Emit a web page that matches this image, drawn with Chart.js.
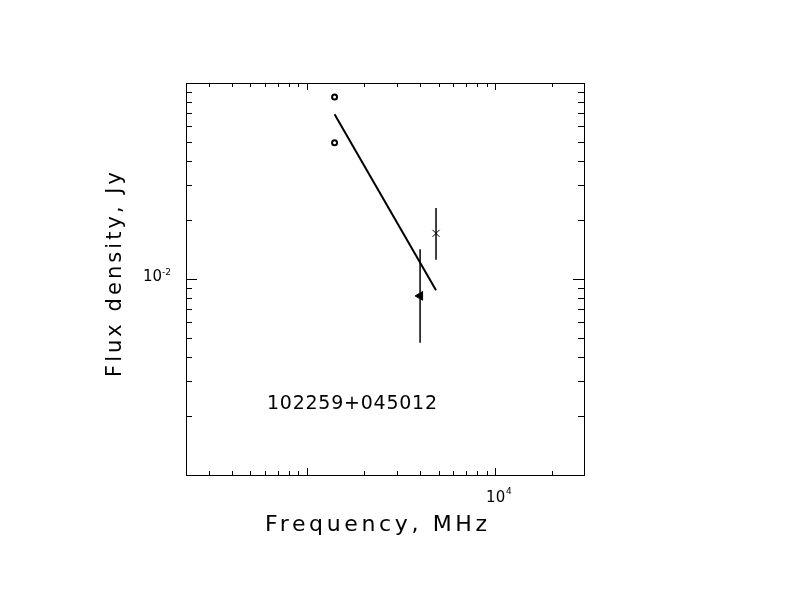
<!DOCTYPE html>
<html>
<head>
<meta charset="utf-8">
<script src="https://cdn.jsdelivr.net/npm/chart.js@4.4.0/dist/chart.umd.min.js"></script>
<style>
  body { margin: 0; background: #fff; }
  #wrap { width: 792px; height: 612px; }
</style>
</head>
<body>
<div id="wrap"><canvas id="sed" width="792" height="612"></canvas></div>
<script>
// Source and axis ranges
const sourceName = '102259+045012';
const xRange = [227, 29700];     // MHz
const yRange = [0.001, 0.1];     // Jy

// Open circles (1.4 GHz)
const circleFreq = [1400, 1400];
const circleFlux = [0.0849, 0.0496];

// Filled triangle with error bar
const triFreq = [3990];
const triFlux = [0.0082];
const triLo = [0.00473];
const triHi = [0.01417];

// Cross with error bar
const crossFreq = [4850];
const crossFlux = [0.0171];
const crossLo = [0.01255];
const crossHi = [0.0230];

// Spectral fit line
const fitFreq = [1400, 4850];
const fitFlux = [0.0692, 0.00876];

// Labelled ticks
const xLabelValues = [10000];
const xLabelExps = ['4'];
const yLabelValues = [0.01];
const yLabelExps = ['-2'];

const pts = (xs, ys) => xs.map((x, i) => ({ x: x, y: ys[i] }));
const errBars = (xs, lo, hi) => xs.map((x, i) => ({
  data: [{ x: x, y: lo[i] }, { x: x, y: hi[i] }],
  showLine: true, borderColor: '#000', borderWidth: 1.5, pointRadius: 0
}));

const FONT = '"DejaVu Sans", sans-serif';

// draw text spread to a given width
function spreadText(ctx, text, x, y, width) {
  ctx.letterSpacing = '0px';
  const w = ctx.measureText(text).width;
  const ls = Math.max(0, (width - w) / (text.length - 1));
  ctx.letterSpacing = ls + 'px';
  ctx.fillText(text, x, y);
  ctx.letterSpacing = '0px';
}

const framePlugin = {
  id: 'frame',
  afterDraw(chart) {
    const ctx = chart.ctx;
    const a = chart.chartArea;
    const xs = chart.scales.x;
    const ys = chart.scales.y;
    ctx.save();
    ctx.strokeStyle = '#000';
    ctx.fillStyle = '#000';
    ctx.lineWidth = 1;
    ctx.strokeRect(Math.round(a.left) + 0.5, Math.round(a.top) + 0.5,
      Math.round(a.right - a.left), Math.round(a.bottom - a.top));

    // x ticks, bottom and top
    for (let e = 2; e <= 4; e++) {
      for (let m = 1; m <= 9; m++) {
        const v = m * Math.pow(10, e);
        if (v <= xRange[0] || v >= xRange[1]) continue;
        const px = Math.round(xs.getPixelForValue(v)) + 0.5;
        const len = m === 1 ? 7 : 4;
        ctx.beginPath();
        ctx.moveTo(px, a.bottom); ctx.lineTo(px, a.bottom - len);
        ctx.moveTo(px, a.top); ctx.lineTo(px, a.top + len);
        ctx.stroke();
      }
    }
    // y ticks, left and right
    for (let e = -3; e <= -1; e++) {
      for (let m = 1; m <= 9; m++) {
        const v = m * Math.pow(10, e);
        if (v <= yRange[0] * 1.001 || v >= yRange[1] * 0.999) continue;
        const py = Math.round(ys.getPixelForValue(v)) + 0.5;
        const len = m === 1 ? 11 : 6;
        ctx.beginPath();
        ctx.moveTo(a.left, py); ctx.lineTo(a.left + len, py);
        ctx.moveTo(a.right, py); ctx.lineTo(a.right - len, py);
        ctx.stroke();
      }
    }

    // tick labels
    ctx.textBaseline = 'middle';
    ctx.textAlign = 'left';
    xLabelValues.forEach((v, i) => {
      const px = xs.getPixelForValue(v);
      ctx.font = '15px ' + FONT;
      ctx.fillText('10', px - 9, a.bottom + 23);
      ctx.font = '9px ' + FONT;
      ctx.fillText(xLabelExps[i], px + 11, a.bottom + 17);
    });
    yLabelValues.forEach((v, i) => {
      const py = ys.getPixelForValue(v);
      ctx.font = '15px ' + FONT;
      ctx.fillText('10', a.left - 43, py - 2);
      ctx.font = '9px ' + FONT;
      ctx.fillText(yLabelExps[i], a.left - 24, py - 6);
    });

    // axis titles
    ctx.textBaseline = 'alphabetic';
    ctx.font = '22px ' + FONT;
    spreadText(ctx, 'Frequency, MHz', 265, 531, 222);

    ctx.save();
    ctx.translate(121, 377);
    ctx.rotate(-Math.PI / 2);
    ctx.font = '21px ' + FONT;
    spreadText(ctx, 'Flux density, Jy', 0, 0, 205);
    ctx.restore();

    // source name
    ctx.font = '19px ' + FONT;
    spreadText(ctx, sourceName, 267, 409, 170);
    ctx.restore();
  }
};

new Chart(document.getElementById('sed'), {
  type: 'scatter',
  data: {
    datasets: [
      {
        data: pts(fitFreq, fitFlux),
        showLine: true, borderColor: '#000', borderWidth: 2, pointRadius: 0
      },
      {
        data: pts(circleFreq, circleFlux),
        pointStyle: 'circle', pointRadius: 2.5, borderWidth: 2,
        borderColor: '#000', backgroundColor: '#fff'
      },
      ...errBars(triFreq, triLo, triHi),
      {
        data: pts(triFreq, triFlux),
        pointStyle: 'triangle', rotation: -90, pointRadius: 5,
        borderColor: '#000', backgroundColor: '#000', borderWidth: 1
      },
      ...errBars(crossFreq, crossLo, crossHi),
      {
        data: pts(crossFreq, crossFlux),
        pointStyle: 'crossRot', pointRadius: 5,
        borderColor: '#000', borderWidth: 1
      }
    ]
  },
  options: {
    responsive: false,
    animation: false,
    layout: { padding: { left: 186, top: 83, right: 208, bottom: 137 } },
    plugins: { legend: { display: false }, tooltip: { enabled: false } },
    scales: {
      x: { type: 'logarithmic', min: xRange[0], max: xRange[1], display: false },
      y: { type: 'logarithmic', min: yRange[0], max: yRange[1], display: false }
    }
  },
  plugins: [framePlugin]
});
</script>
</body>
</html>
